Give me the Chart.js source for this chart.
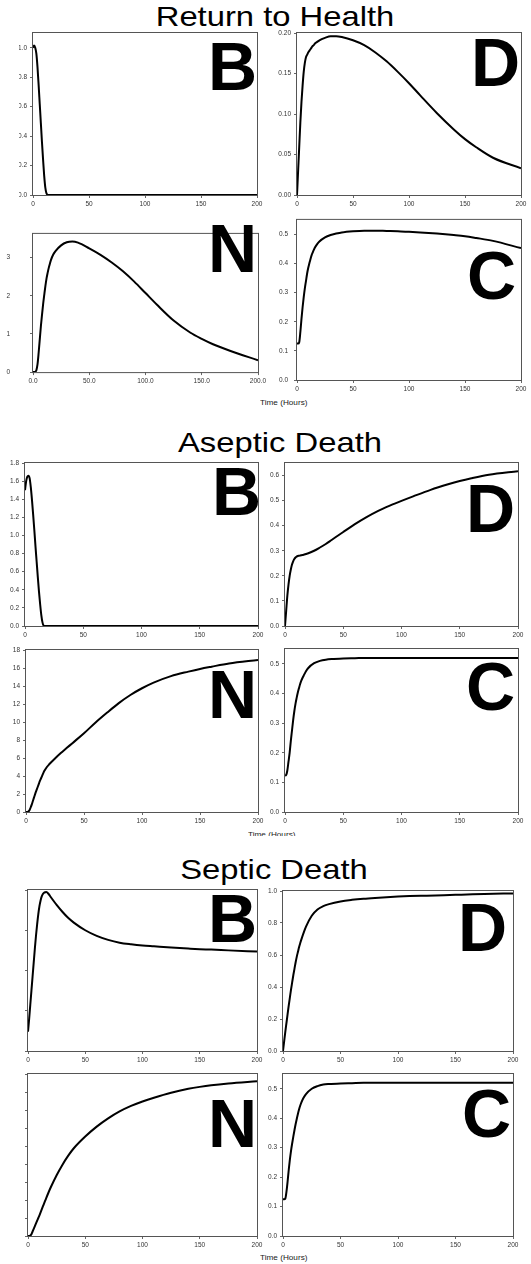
<!DOCTYPE html>
<html>
<head>
<meta charset="utf-8">
<script src="https://cdn.jsdelivr.net/npm/chart.js@4.4.0/dist/chart.umd.min.js"></script>
<style>
html, body { margin: 0; padding: 0; background: #fff; }
body { width: 531px; height: 1264px; position: relative; overflow: hidden; font-family: "Liberation Sans", Arial, sans-serif; }
.title { position: absolute; font-size: 28px; line-height: 28px; white-space: nowrap; color: #000; transform: scaleX(1.17) translateX(-50%); transform-origin: 0 0; }
.xlab { position: absolute; font-size: 7px; line-height: 7px; white-space: nowrap; color: #222; transform: scaleX(1.17); transform-origin: 0 0; }
.panel { position: absolute; overflow: hidden; }
.panel canvas { position: absolute; top: 0; }
</style>
</head>
<body>
<div class="title" style="left:275px; top:3px">Return to Health</div>
<div class="title" style="left:280px; top:429px">Aseptic Death</div>
<div class="title" style="left:274px; top:856px">Septic Death</div>
<div class="xlab" style="left:260px; top:399px">Time (Hours)</div>
<div class="panel" style="left:248px; top:831px; width:80px; height:5px"><div class="xlab" style="left:0; top:0">Time (Hours)</div></div>
<div class="xlab" style="left:260px; top:1254px">Time (Hours)</div>

<script>
// time axis (hours), shared by every curve
const hours = [0, 1, 2, 3, 4, 5, 6, 7, 8, 9, 10, 11, 12, 13, 14, 15, 16, 18, 20, 25, 30, 35, 40, 50, 60, 70, 80, 90, 100, 110, 125, 140, 150, 160, 175, 200];
const xTicks = [0, 50, 100, 150, 200];

// Return to Health
const healthB = [1.0, 1.015, 1.0, 0.96, 0.87, 0.75, 0.62, 0.49, 0.36, 0.24, 0.13, 0.05, 0.012, 0.002, 0, 0, 0, 0, 0, 0, 0, 0, 0, 0, 0, 0, 0, 0, 0, 0, 0, 0, 0, 0, 0, 0];
const healthD = [0, 0.03, 0.06, 0.09, 0.115, 0.135, 0.152, 0.163, 0.17, 0.173, 0.176, 0.178, 0.18, 0.182, 0.184, 0.185, 0.187, 0.189, 0.191, 0.194, 0.196, 0.196, 0.195, 0.191, 0.185, 0.176, 0.165, 0.152, 0.138, 0.123, 0.101, 0.081, 0.069, 0.059, 0.046, 0.033];
const healthN = [0, 0, 0.01, 0.05, 0.2, 0.5, 0.85, 1.2, 1.5, 1.78, 2.02, 2.25, 2.45, 2.6, 2.73, 2.84, 2.94, 3.08, 3.17, 3.32, 3.4, 3.42, 3.39, 3.24, 3.07, 2.87, 2.64, 2.37, 2.07, 1.77, 1.35, 1.03, 0.87, 0.73, 0.56, 0.31];
const healthC = [0.125, 0.125, 0.13, 0.165, 0.21, 0.25, 0.285, 0.315, 0.34, 0.365, 0.385, 0.4, 0.415, 0.428, 0.438, 0.447, 0.455, 0.467, 0.476, 0.49, 0.498, 0.503, 0.507, 0.511, 0.513, 0.513, 0.512, 0.511, 0.509, 0.507, 0.503, 0.498, 0.494, 0.488, 0.478, 0.453];

// Aseptic Death
const asepticB = [1.5, 1.6, 1.65, 1.66, 1.63, 1.53, 1.39, 1.23, 1.06, 0.88, 0.71, 0.54, 0.38, 0.24, 0.12, 0.04, 0.005, 0, 0, 0, 0, 0, 0, 0, 0, 0, 0, 0, 0, 0, 0, 0, 0, 0, 0, 0];
const asepticD = [0, 0.06, 0.12, 0.165, 0.2, 0.225, 0.245, 0.258, 0.267, 0.273, 0.277, 0.279, 0.28, 0.281, 0.282, 0.283, 0.284, 0.287, 0.29, 0.3, 0.313, 0.327, 0.343, 0.375, 0.406, 0.434, 0.459, 0.48, 0.499, 0.517, 0.543, 0.565, 0.578, 0.589, 0.603, 0.617];
const asepticN = [0, 0, 0.05, 0.2, 0.5, 0.85, 1.25, 1.65, 2.05, 2.4, 2.75, 3.1, 3.45, 3.75, 4.05, 4.35, 4.6, 5.0, 5.3, 5.95, 6.55, 7.1, 7.65, 8.75, 9.95, 11.05, 12.1, 13.0, 13.75, 14.38, 15.1, 15.6, 15.9, 16.15, 16.5, 16.9];
const asepticC = [0.123, 0.125, 0.14, 0.17, 0.2, 0.24, 0.275, 0.31, 0.34, 0.365, 0.385, 0.403, 0.418, 0.432, 0.443, 0.452, 0.46, 0.475, 0.486, 0.502, 0.51, 0.514, 0.516, 0.518, 0.519, 0.52, 0.52, 0.52, 0.52, 0.52, 0.52, 0.52, 0.52, 0.52, 0.52, 0.52];

// Septic Death
const septicB = [0.48, 0.8, 1.15, 1.5, 1.85, 2.2, 2.55, 2.87, 3.15, 3.4, 3.6, 3.74, 3.84, 3.9, 3.93, 3.945, 3.95, 3.9, 3.82, 3.63, 3.46, 3.31, 3.19, 3.0, 2.86, 2.76, 2.69, 2.65, 2.62, 2.6, 2.57, 2.545, 2.53, 2.52, 2.5, 2.47];
const septicD = [0, 0.06, 0.12, 0.175, 0.23, 0.285, 0.335, 0.385, 0.43, 0.475, 0.515, 0.555, 0.59, 0.62, 0.65, 0.675, 0.698, 0.74, 0.777, 0.845, 0.884, 0.905, 0.918, 0.935, 0.945, 0.952, 0.957, 0.961, 0.965, 0.968, 0.971, 0.974, 0.976, 0.978, 0.981, 0.985];
const septicN = [0, 0, 0.05, 0.2, 0.5, 0.8, 1.1, 1.4, 1.7, 2.0, 2.3, 2.62, 2.95, 3.28, 3.6, 3.92, 4.24, 4.86, 5.44, 6.75, 7.9, 8.9, 9.75, 11.05, 12.15, 13.07, 13.84, 14.45, 14.95, 15.37, 15.92, 16.35, 16.57, 16.75, 16.95, 17.2];
const septicC = [0.125, 0.125, 0.127, 0.15, 0.185, 0.225, 0.26, 0.29, 0.315, 0.338, 0.36, 0.38, 0.398, 0.415, 0.43, 0.443, 0.454, 0.47, 0.482, 0.5, 0.509, 0.514, 0.516, 0.518, 0.519, 0.52, 0.52, 0.52, 0.52, 0.52, 0.52, 0.52, 0.52, 0.52, 0.52, 0.52];

// panel placement on the page: plot box [left, top, right, bottom], letter ink [left, bottom]
const panels = [
  { letter: "B", values: healthB, box: [33, 33, 257, 195], clip: 19, yMax: 1.1, step: 0.2, dec: 1, ink: [212, 90] },
  { letter: "D", values: healthD, box: [297, 33, 521, 195], yMax: 0.2, step: 0.05, dec: 2, ink: [475, 86] },
  { letter: "N", values: healthN, box: [33, 218, 258, 380], yMax: 3.62, step: 1, dec: 0, ink: [212, 272], yPad: 20, xDec: 1 },
  { letter: "C", values: healthC, box: [297, 218, 521, 380], yMax: 0.55, step: 0.1, dec: 1, ink: [469, 300], yPad: 6 },
  { letter: "B", values: asepticB, box: [25, 463, 258, 626], clip: 10, yMax: 1.8, step: 0.2, dec: 1, ink: [216, 515] },
  { letter: "D", values: asepticD, box: [285, 463, 518, 626], yMax: 0.65, step: 0.1, dec: 1, ink: [470, 532] },
  { letter: "N", values: asepticN, box: [26, 650, 258, 812], yMax: 18, step: 2, dec: 0, ink: [212, 718] },
  { letter: "C", values: asepticC, box: [285, 649, 518, 812], yMax: 0.55, step: 0.1, dec: 1, ink: [468, 711] },
  { letter: "B", values: septicB, box: [28, 890, 257, 1051], clip: 25, yMax: 4, step: 1, dec: 0, ink: [212, 942] },
  { letter: "D", values: septicD, box: [283, 891, 513, 1051], yMax: 1.0, step: 0.2, dec: 1, ink: [462, 951] },
  { letter: "N", values: septicN, box: [28, 1074, 257, 1236], clip: 24, yMax: 18, step: 2, dec: 0, ink: [212, 1147] },
  { letter: "C", values: septicC, box: [283, 1074, 513, 1236], yMax: 0.55, step: 0.1, dec: 1, ink: [464, 1138] }
];

const YW = 45, XH = 16, PAD_TOP = 8, PAD_RIGHT = 16;
const tickFont = { size: 6.5, family: '"Liberation Sans", Arial, sans-serif' };

// plot frame + the big panel letter
const framePlugin = {
  id: "frame",
  afterDraw(chart, args, opts) {
    const a = chart.chartArea, ctx = chart.ctx;
    ctx.save();
    ctx.strokeStyle = "#555";
    ctx.lineWidth = 1;
    ctx.strokeRect(a.left - 0.5, a.top - 0.5, a.right - a.left + 1, a.bottom - a.top + 1);
    ctx.fillStyle = "#000";
    ctx.font = 'bold 68px "Liberation Sans", Arial, sans-serif';
    ctx.textBaseline = "alphabetic";
    ctx.textAlign = "left";
    const m = ctx.measureText(opts.text);
    ctx.fillText(opts.text, opts.x + m.actualBoundingBoxLeft, opts.y - m.actualBoundingBoxDescent);
    ctx.restore();
  }
};

panels.forEach(p => {
  const [l, t, r, b] = p.box;
  const cLeft = l - YW, cTop = t - PAD_TOP;
  const cW = (r - l) + YW + PAD_RIGHT, cH = (b - t) + PAD_TOP + XH;
  const dLeft = p.clip !== undefined ? p.clip : cLeft;

  const div = document.createElement("div");
  div.className = "panel";
  div.style.left = dLeft + "px";
  div.style.top = cTop + "px";
  div.style.width = (cLeft + cW - dLeft) + "px";
  div.style.height = cH + "px";
  const canvas = document.createElement("canvas");
  canvas.width = cW;
  canvas.height = cH;
  canvas.style.width = cW + "px";
  canvas.style.height = cH + "px";
  canvas.style.left = (cLeft - dLeft) + "px";
  div.appendChild(canvas);
  document.body.appendChild(div);

  new Chart(canvas.getContext("2d"), {
    type: "line",
    data: {
      datasets: [{
        data: hours.map((h, i) => ({ x: h, y: p.values[i] })),
        borderColor: "#000",
        borderWidth: 2,
        pointRadius: 0,
        fill: false,
        cubicInterpolationMode: "monotone"
      }]
    },
    options: {
      responsive: false,
      animation: false,
      events: [],
      layout: { padding: { left: 0, top: PAD_TOP, right: PAD_RIGHT, bottom: 0 } },
      plugins: {
        legend: { display: false },
        tooltip: { enabled: false },
        frame: { text: p.letter, x: p.ink[0] - cLeft, y: p.ink[1] - cTop }
      },
      scales: {
        x: {
          type: "linear",
          min: 0,
          max: 200,
          afterBuildTicks: s => { s.ticks = xTicks.map(v => ({ value: v })); },
          afterFit: s => { s.height = XH; },
          ticks: {
            color: "#333", font: tickFont, padding: 2, maxRotation: 0, autoSkip: false,
            callback: v => p.xDec ? v.toFixed(p.xDec) : String(v)
          },
          grid: { drawOnChartArea: false, drawTicks: true, tickLength: 3, color: "#666" },
          border: { display: false }
        },
        y: {
          type: "linear",
          min: 0,
          max: p.yMax,
          afterFit: s => { s.width = YW; },
          ticks: {
            stepSize: p.step, includeBounds: false, color: "#333", font: tickFont,
            padding: p.yPad || 3,
            callback: v => Number(v).toFixed(p.dec)
          },
          grid: { drawOnChartArea: false, drawTicks: true, tickLength: 3, color: "#666" },
          border: { display: false }
        }
      }
    },
    plugins: [framePlugin]
  });
});
</script>
</body>
</html>
